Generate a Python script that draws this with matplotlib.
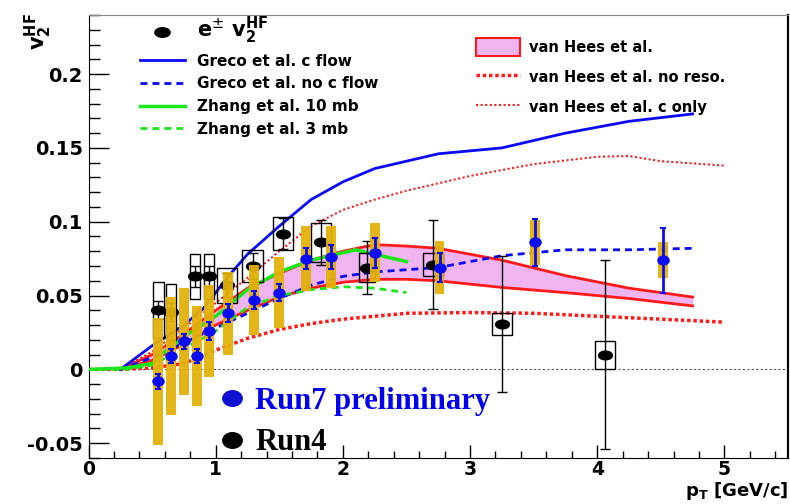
import numpy as np
import matplotlib
matplotlib.use("Agg")
import matplotlib.pyplot as plt
from matplotlib.path import Path
from matplotlib.transforms import Affine2D
from matplotlib.lines import Line2D
from matplotlib.patches import Patch
from matplotlib.ticker import MultipleLocator, FixedLocator

# --- Run7 preliminaire (points bleus + systematiques dorees) ---
run7_pt = np.array([0.55, 0.65, 0.75, 0.85, 0.95, 1.10, 1.30, 1.50, 1.71, 1.91, 2.25, 2.76, 3.51, 4.52])
run7_v2 = np.array([-0.008, 0.009, 0.019, 0.009, 0.026, 0.038, 0.047, 0.052, 0.075, 0.076, 0.079, 0.069, 0.086, 0.074])
run7_stat = np.array([0.005, 0.005, 0.005, 0.005, 0.006, 0.006, 0.006, 0.006, 0.007, 0.008, 0.010, 0.010, 0.016, 0.022])
run7_sys = np.array([0.043, 0.040, 0.036, 0.034, 0.031, 0.028, 0.024, 0.024, 0.022, 0.021, 0.020, 0.018, 0.015, 0.012])

# --- Run4 (points noirs + boites) ---
run4_pt = np.array([0.55, 0.65, 0.84, 0.95, 1.09, 1.29, 1.53, 1.83, 2.19, 2.71, 3.25, 4.06])
run4_v2 = np.array([0.040, 0.039, 0.063, 0.063, 0.057, 0.070, 0.092, 0.086, 0.069, 0.071, 0.031, 0.010])
run4_stat = np.array([0.006, 0.006, 0.007, 0.007, 0.008, 0.009, 0.0105, 0.015, 0.018, 0.030, 0.046, 0.064])
run4_sys = np.array([0.019, 0.019, 0.015, 0.015, 0.012, 0.011, 0.011, 0.013, 0.0095, 0.008, 0.0074, 0.0095])
run4_boxw = np.array([0.08, 0.08, 0.08, 0.08, 0.16, 0.16, 0.16, 0.16, 0.13, 0.16, 0.16, 0.16])

# --- Modeles ---
greco_pt = [0.25, 0.5, 0.75, 0.9, 1.0, 1.1, 1.25, 1.5, 1.75, 2.0, 2.25, 2.75, 3.25, 3.75, 4.25, 4.75]
greco_cflow = [0.0, 0.016, 0.030, 0.041, 0.052, 0.063, 0.078, 0.097, 0.115, 0.127, 0.136, 0.146, 0.150, 0.160, 0.168, 0.173]
greco_nocflow = [0.0, 0.008, 0.018, 0.024, 0.028, 0.032, 0.038, 0.048, 0.057, 0.063, 0.066, 0.069, 0.077, 0.081, 0.081, 0.082]

zhang10_pt = [0.0, 0.3, 0.5, 0.6, 0.75, 1.0, 1.25, 1.5, 1.75, 2.0, 2.1, 2.25, 2.5]
zhang10_v2 = [0.0, 0.001, 0.004, 0.012, 0.022, 0.036, 0.054, 0.066, 0.074, 0.079, 0.081, 0.078, 0.073]
zhang3_pt = [0.0, 0.3, 0.5, 0.75, 1.0, 1.25, 1.5, 1.75, 2.0, 2.25, 2.5]
zhang3_v2 = [0.0, 0.0, 0.003, 0.014, 0.026, 0.042, 0.050, 0.054, 0.056, 0.055, 0.052]

hees_pt = [0.25, 0.5, 0.75, 1.0, 1.25, 1.5, 1.75, 2.0, 2.25, 2.5, 2.75, 3.25, 3.75, 4.25, 4.75]
hees_up = [0.0, 0.010, 0.024, 0.040, 0.055, 0.065, 0.074, 0.080, 0.0845, 0.0835, 0.082, 0.074, 0.0635, 0.055, 0.049]
hees_lo = [0.0, 0.006, 0.017, 0.030, 0.040, 0.049, 0.055, 0.059, 0.061, 0.061, 0.060, 0.0555, 0.052, 0.048, 0.043]

hees_noreso_pt = [0.0, 0.25, 0.5, 0.75, 1.0, 1.25, 1.5, 1.75, 2.0, 2.25, 2.5, 3.0, 3.5, 4.0, 4.5, 5.0]
hees_noreso_v2 = [0.0, 0.0, 0.001, 0.004, 0.013, 0.021, 0.027, 0.031, 0.034, 0.036, 0.038, 0.0385, 0.038, 0.036, 0.034, 0.032]
hees_conly_pt = [0.25, 0.5, 0.75, 1.0, 1.25, 1.5, 1.75, 2.0, 2.25, 2.5, 3.0, 3.5, 4.0, 4.25, 4.5, 5.0]
hees_conly_v2 = [0.0, 0.012, 0.028, 0.045, 0.062, 0.080, 0.097, 0.108, 0.115, 0.121, 0.131, 0.139, 0.144, 0.1445, 0.141, 0.138]

ytick_vals = [-0.05, 0.0, 0.05, 0.1, 0.15, 0.2]
ytick_txt = ["-0.05", "0", "0.05", "0.1", "0.15", "0.2"]

# marqueur ellipse (image d'origine etiree)
ellipse = Path.unit_circle().transformed(Affine2D().scale(1.6, 1.0))
ellipse_b = Path.unit_circle().transformed(Affine2D().scale(1.25, 1.0))

fig = plt.figure(figsize=(7.9, 5.04), dpi=100)
ax = fig.add_axes([88.5 / 790, 1 - 458 / 504, 699.5 / 790, 443 / 504])

gold = "#E3B10A"
blue = "#0A0AF5"
red = "#FF1A1A"
green = "#18E818"

ax.axhline(0, color="#555555", lw=0.8, ls=(0, (2, 2)), zorder=1)

# modeles
ax.fill_between(hees_pt, hees_lo, hees_up, color="#F0B4F0", lw=0, zorder=2)
ax.plot(hees_pt, hees_up, color=red, lw=2, zorder=3)
ax.plot(hees_pt, hees_lo, color=red, lw=2, zorder=3)
l_noreso, = ax.plot(hees_noreso_pt, hees_noreso_v2, color=red, lw=2.5, ls=(0, (1, 0.8)), zorder=3)
l_conly, = ax.plot(hees_conly_pt, hees_conly_v2, color=red, lw=1.5, ls=(0, (1, 1.2)), zorder=3)
l_gc, = ax.plot(greco_pt, greco_cflow, color=blue, lw=2, zorder=4)
l_gn, = ax.plot(greco_pt, greco_nocflow, color=blue, lw=2, ls=(0, (2.5, 1.8)), zorder=4)
l_z10, = ax.plot(zhang10_pt, zhang10_v2, color=green, lw=2.5, zorder=4)
l_z3, = ax.plot(zhang3_pt, zhang3_v2, color=green, lw=2, ls=(0, (2.5, 1.8)), zorder=4)

# Run4
ax.bar(run4_pt, 2 * run4_sys, bottom=run4_v2 - run4_sys, width=run4_boxw,
       fill=False, edgecolor="black", lw=1, zorder=5)
ax.errorbar(run4_pt, run4_v2, yerr=run4_stat, fmt="none", ecolor="black",
            elinewidth=1, capsize=3.5, capthick=1, zorder=5)
ax.plot(run4_pt, run4_v2, ls="none", marker=ellipse, ms=10, color="black", zorder=6)

# Run7
ax.bar(run7_pt, 2 * run7_sys, bottom=run7_v2 - run7_sys, width=0.078,
       color=gold, lw=0, alpha=0.95, zorder=7)
ax.errorbar(run7_pt, run7_v2, yerr=run7_stat, fmt="none", ecolor=blue,
            elinewidth=2, capsize=2, capthick=1.5, zorder=8)
ax.plot(run7_pt, run7_v2, ls="none", marker=ellipse_b, ms=8, color=blue, zorder=9)

ax.set_xlim(0, 5.5)
ax.set_ylim(-0.06, 0.24)

# axes style ROOT
ax.yaxis.set_major_locator(FixedLocator(ytick_vals))
ax.set_yticklabels(ytick_txt)
ax.yaxis.set_minor_locator(MultipleLocator(0.01))
ax.xaxis.set_major_locator(MultipleLocator(1))
ax.xaxis.set_minor_locator(MultipleLocator(0.2))
ax.tick_params(axis="y", which="major", direction="in", length=14.4, width=1, pad=4)
ax.tick_params(axis="y", which="minor", direction="in", length=8, width=1)
ax.tick_params(axis="x", which="major", direction="in", length=9.4, width=1, pad=1.5)
ax.tick_params(axis="x", which="minor", direction="in", length=5, width=1)
for lab in ax.get_yticklabels():
    lab.set_fontsize(14)
    lab.set_fontweight("bold")
for lab in ax.get_xticklabels():
    lab.set_fontsize(13.5)
    lab.set_fontweight("bold")
ax.spines["top"].set_color("#888888")
ax.spines["right"].set_linewidth(1.6)

ax.set_xlabel("p$_\\mathbf{T}$ [GeV/c]", fontsize=13, fontweight="bold", loc="right", va="baseline")
ax.xaxis.set_label_coords(1.0, -0.0858)
ax.set_ylabel("v$_\\mathbf{2}^\\mathbf{HF}$", fontsize=15, fontweight="bold", loc="top")
ax.yaxis.set_label_coords(-0.05, 1.005)

# legendes
h_data = Line2D([], [], ls="none", marker=ellipse, ms=11, color="black")
leg1 = ax.legend([h_data, l_gc, l_gn, l_z10, l_z3],
                 ["e$^{\\pm}$ v$_\\mathbf{2}^\\mathbf{HF}$", "Greco et al. c flow", "Greco et al. no c flow",
                  "Zhang et al. 10 mb", "Zhang et al. 3 mb"],
                 loc="upper left", bbox_to_anchor=(0.074, 1.0), frameon=False,
                 prop={"weight": "bold", "size": 11}, handlelength=2.9, handletextpad=0.8,
                 labelspacing=0.5, borderpad=0, borderaxespad=0)
leg1.get_texts()[0].set_fontsize(15)
ax.add_artist(leg1)

h_band = Patch(facecolor="#F0B4F0", edgecolor=red, lw=1.5)
leg2 = ax.legend([h_band, l_noreso, l_conly],
                 ["van Hees et al.", "van Hees et al. no reso.", "van Hees et al. c only"],
                 loc="upper left", bbox_to_anchor=(0.554, 0.948), frameon=False,
                 prop={"weight": "bold", "size": 10.5}, handlelength=3.0, handleheight=1.5,
                 handletextpad=0.6, labelspacing=0.85, borderpad=0, borderaxespad=0)
ax.add_artist(leg2)

h7 = Line2D([], [], ls="none", marker=ellipse_b, ms=14, color="#1010D0")
h4 = Line2D([], [], ls="none", marker=ellipse_b, ms=14, color="black")
ax.legend([h7, h4], ["Run7 preliminary", "Run4"], loc="upper left",
          bbox_to_anchor=(0.19, 0.16), frameon=False, labelcolor=["#0000EE", "black"],
          prop={"family": "Liberation Serif", "weight": "bold", "size": 22},
          handlelength=0.7, handletextpad=0.4, labelspacing=0.4, borderpad=0, borderaxespad=0)

fig.savefig("out.png", dpi=100)
